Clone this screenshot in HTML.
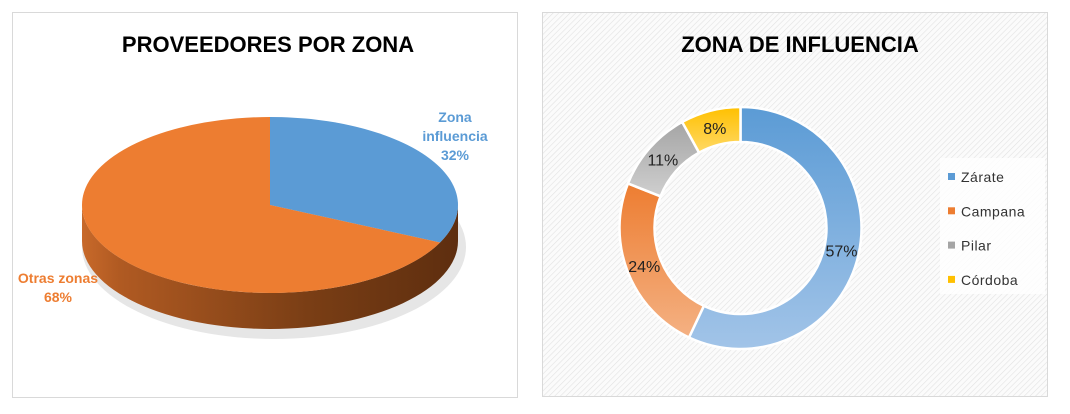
<!DOCTYPE html>
<html><head><meta charset="utf-8"><style>
body{margin:0;width:1070px;height:409px;background:#fff;overflow:hidden;font-family:"Liberation Sans",sans-serif}
</style></head><body>
<svg width="1070" height="409" viewBox="0 0 1070 409">
<defs>
<pattern id="hatch" width="4" height="4" patternUnits="userSpaceOnUse" patternTransform="rotate(45)">
<rect width="4" height="4" fill="#fbfbfb"/><line x1="0" y1="0" x2="0" y2="4" stroke="#e2e2e2" stroke-width="1.2"/></pattern>
<linearGradient id="sideG" x1="0" x2="1" y1="0" y2="0">
<stop offset="0" stop-color="#c8692a"/><stop offset="0.1" stop-color="#b05a22"/><stop offset="0.6" stop-color="#7a3e15"/><stop offset="1" stop-color="#5e2e0f"/></linearGradient>
<linearGradient id="gBlue" x1="0" y1="0" x2="0" y2="1"><stop offset="0" stop-color="#5b9bd5"/><stop offset="1" stop-color="#a2c4e8"/></linearGradient>
<linearGradient id="gOr" x1="0" y1="0" x2="0" y2="1"><stop offset="0" stop-color="#ed7d31"/><stop offset="1" stop-color="#f4b183"/></linearGradient>
<linearGradient id="gGr" x1="0" y1="0" x2="0" y2="1"><stop offset="0" stop-color="#a5a5a5"/><stop offset="1" stop-color="#cfcfcf"/></linearGradient>
<linearGradient id="gYe" x1="0" y1="0" x2="0" y2="1"><stop offset="0" stop-color="#ffc000"/><stop offset="1" stop-color="#ffd966"/></linearGradient>
</defs>
<rect x="12.5" y="12.5" width="505" height="385" fill="#fff" stroke="#d9d9d9"/>
<text x="268" y="52" text-anchor="middle" font-size="22" font-weight="bold" fill="#000">PROVEEDORES POR ZONA</text>
<g id="pie"></g>
<rect x="542.5" y="12.5" width="505" height="384" fill="url(#hatch)" stroke="#d9d9d9"/>
<text x="800" y="52" text-anchor="middle" font-size="22" font-weight="bold" fill="#000">ZONA DE INFLUENCIA</text>
<g id="donut"></g>
<rect x="940" y="158" width="105" height="136" fill="#fff" opacity="0.8"/>
<g id="legend"></g>
</svg>
<script>
const pieCats=["Zona influencia","Otras zonas"];
const pieVals=[32,68];
const donutCats=["Zárate","Campana","Pilar","Córdoba"];
const donutVals=[57,24,11,8];
const NS="http://www.w3.org/2000/svg";
function mk(t,a,p){const e=document.createElementNS(NS,t);for(const k in a)e.setAttribute(k,a[k]);p.appendChild(e);return e;}
// 3D pie
const pie=document.getElementById('pie');
const cx=270,cy=205,rx=188,ry=88,dep=36;
const tot=pieVals.reduce((a,b)=>a+b,0);
function ep(f){const a=f*2*Math.PI;return [cx+rx*Math.sin(a),cy-ry*Math.cos(a)];}
const shadow=mk('ellipse',{cx:cx+4,cy:cy+dep+6,rx:rx+4,ry:ry+4,fill:'#e6e6e6'},pie);


const side=mk('path',{d:`M${cx-rx},${cy} A${rx},${ry} 0 0 0 ${cx+rx},${cy} L${cx+rx},${cy+dep} A${rx},${ry} 0 0 1 ${cx-rx},${cy+dep} Z`,fill:'url(#sideG)'},pie);


const pieCols=['#5b9bd5','#ed7d31'];
let acc=0;
pieVals.forEach((v,i)=>{
 const f0=acc/tot,f1=(acc+v)/tot;acc+=v;
 const p0=ep(f0),p1=ep(f1);const large=(f1-f0)>0.5?1:0;
 const s=mk('path',{d:`M${cx},${cy} L${p0[0]},${p0[1]} A${rx},${ry} 0 ${large} 1 ${p1[0]},${p1[1]} Z`,fill:pieCols[i]},pie);
 
 
});
const lbls=[{x:455,y:122,lines:['Zona','influencia',pieVals[0]+'%'],c:'#5b9bd5'},{x:58,y:283,lines:['Otras zonas',pieVals[1]+'%'],c:'#ed7d31'}];
lbls.forEach((L,i)=>{
 const t=mk('text',{x:L.x,y:L.y,'text-anchor':'middle','font-size':'14','font-weight':'bold',fill:L.c},pie);
 
 
 L.lines.forEach((s,j)=>{const ts=mk('tspan',{x:L.x,dy:j?19:0},t);ts.textContent=s;});
});
// donut
const dn=document.getElementById('donut');
const dx=740.5,dy=228,R=121,r=86;
const dcols=['url(#gBlue)','url(#gOr)','url(#gGr)','url(#gYe)'];
const dtot=donutVals.reduce((a,b)=>a+b,0);
function pt(rad,f){const a=f*2*Math.PI;return [dx+rad*Math.sin(a),dy-rad*Math.cos(a)];}
let da=0;
const lblPos=[[849,258],[647,272],[668,164],[722,133]];
donutVals.forEach((v,i)=>{
 const f0=da/dtot,f1=(da+v)/dtot;da+=v;
 const a=pt(R,f0),b=pt(R,f1),c=pt(r,f1),d=pt(r,f0);const lg=(f1-f0)>0.5?1:0;
 const s=mk('path',{d:`M${a[0]},${a[1]} A${R},${R} 0 ${lg} 1 ${b[0]},${b[1]} L${c[0]},${c[1]} A${r},${r} 0 ${lg} 0 ${d[0]},${d[1]} Z`,fill:dcols[i],stroke:'#fff','stroke-width':2.5},dn);
 
 
 const fm=(f0+f1)/2;const m=pt((R+r)/2,fm);
 const t=mk('text',{x:m[0],y:m[1]+6,'text-anchor':'middle','font-size':'16',fill:'#222'},dn);
 
 
 t.textContent=v+'%';
});
const lg=document.getElementById('legend');
const lcols=['#5b9bd5','#ed7d31','#a5a5a5','#ffc000'];
donutCats.forEach((n,i)=>{
 const y=177+i*34.3;
 const m=mk('rect',{x:948,y:y-4,width:7,height:7,fill:lcols[i]},lg);
 
 
 const t=mk('text',{x:961,y:y+5,'font-size':'14',fill:'#333','letter-spacing':'0.5'},lg);
 
 
 t.textContent=n;
});
</script>
</body></html>
